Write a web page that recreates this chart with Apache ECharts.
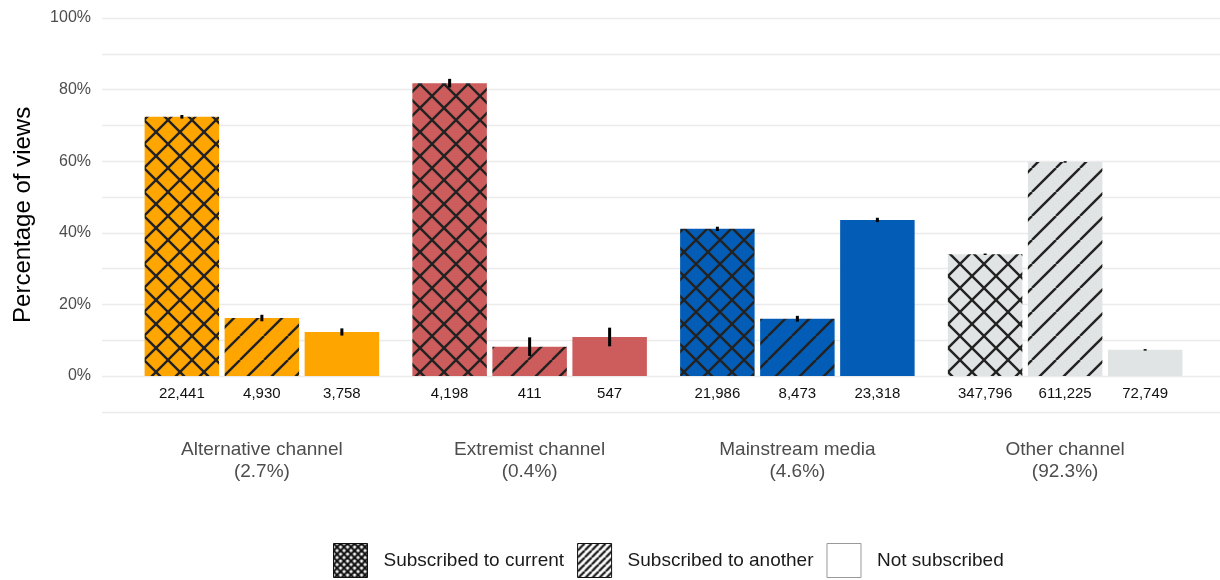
<!DOCTYPE html>
<html>
<head>
    <meta charset="utf-8">
    <title>ECharts</title>
    <style>
        html,body{width:100%;height:100%;overflow:hidden;padding:0;margin:0;background:#fff;}
        #main{width:1220px;height:580px;}
    </style>
    <script src="https://cdn.jsdelivr.net/npm/echarts@6/dist/echarts.min.js"></script>
</head>
<body>
<div id="main"></div>

<script type="text/javascript">

    // channel groups (x categories)
    var groups = ['Alternative channel\n(2.7%)', 'Extremist channel\n(0.4%)', 'Mainstream media\n(4.6%)', 'Other channel\n(92.3%)'];
    var groupColors = ['#FFA500', '#CD5C5C', '#035DB6', '#E1E4E4'];
    var seriesNames = ['Subscribed to current', 'Subscribed to another', 'Not subscribed'];

    // percentage of views, one array per subscription status
    var pctCurrent = [72.4, 81.8, 41.1, 34.0];
    var pctAnother = [16.2, 8.2, 16.0, 59.8];
    var pctNone = [12.3, 10.9, 43.6, 7.3];

    // error bar half widths
    var errCurrent = [0.5, 1.2, 0.6, 0.2];
    var errAnother = [0.9, 2.6, 0.8, 0.2];
    var errNone = [1.0, 2.6, 0.6, 0.2];

    // view counts shown under bars
    var nCurrent = ['22,441', '4,198', '21,986', '347,796'];
    var nAnother = ['4,930', '411', '8,473', '611,225'];
    var nNone = ['3,758', '547', '23,318', '72,749'];

    var yTicks = [0, 20, 40, 60, 80, 100];

    var pct = [pctCurrent, pctAnother, pctNone];
    var err = [errCurrent, errAnother, errNone];
    var counts = [nCurrent, nAnother, nNone];

    // pattern tiles
    function tile(bg, p, lw, stroke, kind) {
        var c = document.createElement('canvas');
        c.width = p; c.height = p;
        var ctx = c.getContext('2d');
        ctx.fillStyle = bg;
        ctx.fillRect(0, 0, p, p);
        ctx.strokeStyle = stroke;
        ctx.lineWidth = lw;
        for (var k = -1; k <= 1; k++) {
            ctx.beginPath();
            ctx.moveTo(k * p, p); ctx.lineTo(k * p + p, 0);
            ctx.stroke();
            if (kind === 'cross') {
                ctx.beginPath();
                ctx.moveTo(k * p, 0); ctx.lineTo(k * p + p, p);
                ctx.stroke();
            }
        }
        return {image: c, repeat: 'repeat'};
    }

    function fillFor(status, g) {
        var col = groupColors[g];
        if (status === 0) return tile(col, 24, 2.4, '#222', 'cross');
        if (status === 1) return tile(col, 24, 2.4, '#222', 'stripe');
        return col;
    }

    var myChart = echarts.init(document.getElementById('main'));
    var font = '"Liberation Sans", Arial, sans-serif';

    var series = [];
    for (var s = 0; s < 3; s++) {
        (function (s) {
            series.push({
                name: seriesNames[s],
                type: 'bar',
                xAxisIndex: 1,
                yAxisIndex: 1,
                barWidth: 74.5,
                barGap: '7.4%',
                data: pct[s].map(function (v, g) {
                    return {value: v, itemStyle: {color: fillFor(s, g)}};
                }),
                label: {
                    show: true,
                    position: 'bottom',
                    distance: 10,
                    color: '#111',
                    fontSize: 15,
                    fontFamily: font,
                    formatter: function (p) { return counts[s][p.dataIndex]; }
                }
            });
        })(s);
    }

    var errData = [];
    for (var s2 = 0; s2 < 3; s2++) {
        for (var g = 0; g < groups.length; g++) {
            errData.push([g, pct[s2][g] - err[s2][g], pct[s2][g] + err[s2][g], s2]);
        }
    }
    series.push({
        type: 'custom',
        xAxisIndex: 1,
        yAxisIndex: 1,
        z: 5,
        silent: true,
        data: errData,
        renderItem: function (params, api) {
            var lo = api.coord([api.value(0), api.value(1)]);
            var hi = api.coord([api.value(0), api.value(2)]);
            var off = (api.value(3) - 1) * 80;
            return {
                type: 'line',
                shape: {x1: lo[0] + off, y1: lo[1], x2: hi[0] + off, y2: hi[1]},
                style: {stroke: '#000', lineWidth: 3}
            };
        }
    });

    var legendCross = tile('#fff', 7, 2.2, '#111', 'cross');
    var legendStripe = tile('#fff', 7, 2.2, '#111', 'stripe');

    var option = {
        animation: false,
        textStyle: {fontFamily: font},
        grid: [
            {left: 102, right: 0, top: 18, bottom: 168.2, containLabel: false, outerBoundsMode: 'none'},
            {left: 128, right: 21, top: 18, bottom: 168.2, containLabel: false, outerBoundsMode: 'none'}
        ],
        legend: {
            left: 333,
            top: 543,
            padding: 0,
            itemWidth: 34,
            itemHeight: 34,
            itemGap: 13,
            icon: 'rect',
            textStyle: {fontSize: 19, color: '#1a1a1a', fontFamily: font, padding: [0, 0, 0, 11]},
            data: [
                {name: seriesNames[0], itemStyle: {color: legendCross, borderColor: '#111', borderWidth: 1}},
                {name: seriesNames[1], itemStyle: {color: legendStripe, borderColor: '#111', borderWidth: 1}},
                {name: seriesNames[2], itemStyle: {color: '#fff', borderColor: '#999', borderWidth: 1}}
            ]
        },
        xAxis: [
            {gridIndex: 0, type: 'value', show: false, min: 0, max: 1},
            {
                gridIndex: 1,
                type: 'category',
                data: groups,
                axisLine: {show: false},
                axisTick: {show: false},
                axisLabel: {margin: 27, fontSize: 19, lineHeight: 22, color: '#4D4D4D', fontFamily: font}
            }
        ],
        yAxis: [
            {
                gridIndex: 0,
                type: 'value',
                min: -10,
                max: 100,
                interval: 10,
                name: 'Percentage of views',
                nameLocation: 'middle',
                nameGap: 67,
                nameTextStyle: {fontSize: 24, color: '#000', fontFamily: font},
                axisLine: {show: false},
                axisTick: {show: false},
                axisLabel: {
                    margin: 11,
                    fontSize: 16,
                    color: '#4D4D4D',
                    fontFamily: font,
                    formatter: function (v) { return yTicks.indexOf(v) >= 0 ? v + '%' : ''; }
                },
                splitLine: {lineStyle: {color: '#EBEBEB', width: 1.4}}
            },
            {
                gridIndex: 1,
                type: 'value',
                min: -10,
                max: 100,
                interval: 10,
                show: false,
                splitLine: {show: false}
            }
        ],
        series: series
    };

    myChart.setOption(option);

</script>
</body>
</html>
